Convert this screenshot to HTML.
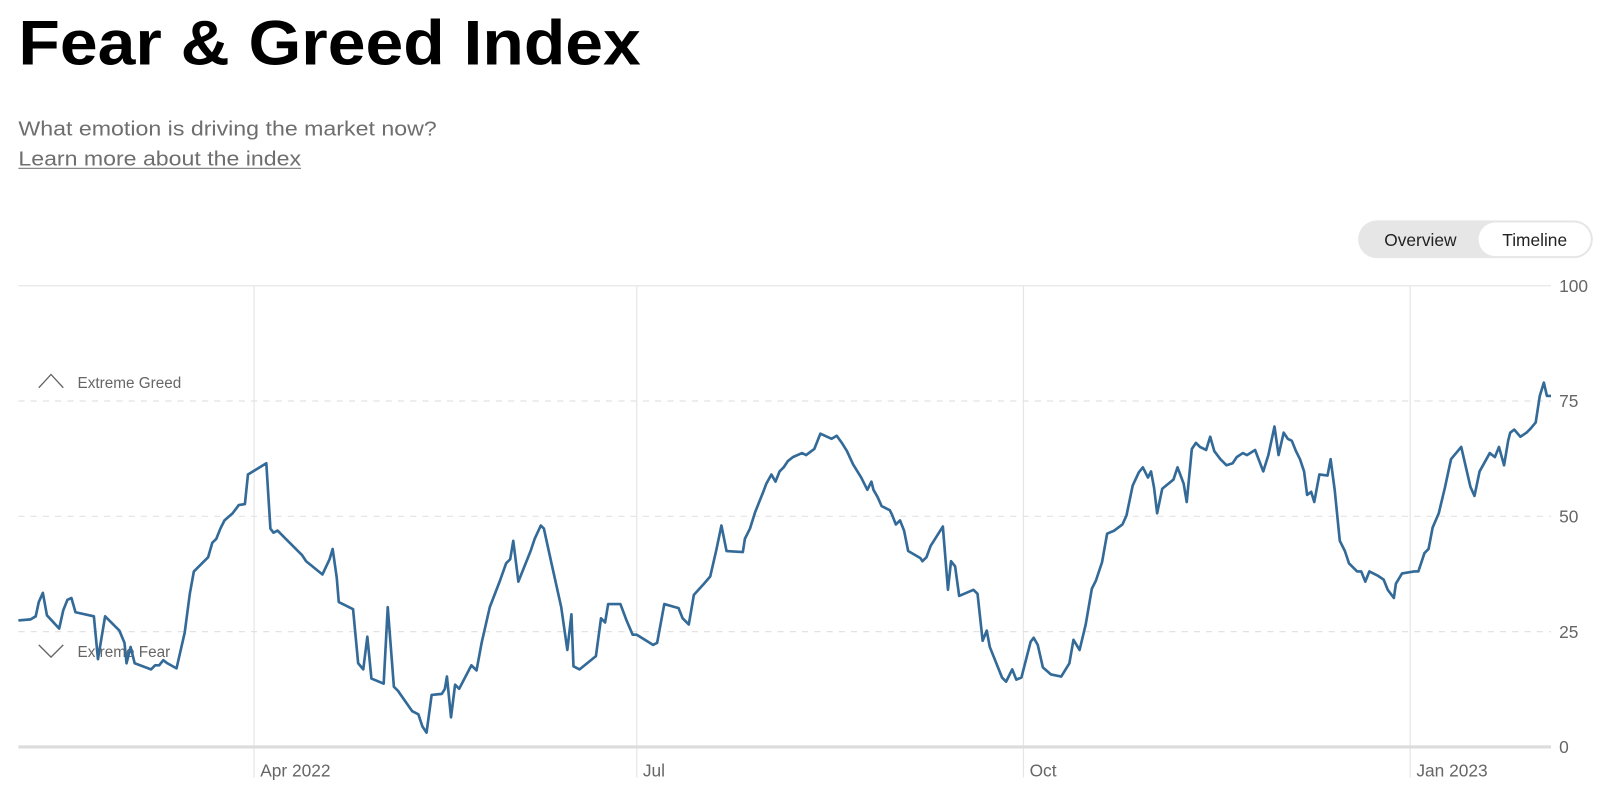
<!DOCTYPE html>
<html><head><meta charset="utf-8"><style>
html,body{margin:0;padding:0;background:#fff;width:1600px;height:801px;overflow:hidden}
#w{transform:scale(1.0204);transform-origin:0 0;width:1568px;height:785px}
svg text{font-family:"Liberation Sans",Arial,sans-serif}
</style></head><body><div id="w">
<svg width="1568" height="785" viewBox="0 0 1568 785" xmlns="http://www.w3.org/2000/svg">
<text x="18" y="63" font-size="62" font-weight="bold" fill="#000" textLength="610" lengthAdjust="spacingAndGlyphs">Fear &amp; Greed Index</text>
<text x="18" y="133" font-size="20" fill="#6e6e6e" textLength="410" lengthAdjust="spacingAndGlyphs">What emotion is driving the market now?</text>
<text x="18" y="162" font-size="20" fill="#6e6e6e" textLength="277" lengthAdjust="spacingAndGlyphs">Learn more about the index</text>
<line x1="18" y1="165" x2="295" y2="165" stroke="#888" stroke-width="1.3"/>
<rect x="1331" y="216" width="230" height="37" rx="18.5" fill="#e6e6e6"/>
<rect x="1449" y="218" width="110" height="33" rx="16.5" fill="#fff"/>
<text x="1392" y="241" font-size="17" fill="#222" text-anchor="middle">Overview</text>
<text x="1504" y="241" font-size="17" fill="#222" text-anchor="middle">Timeline</text>
<g stroke="#e6e6e6" stroke-width="1.2">
<line x1="18" y1="280" x2="1520" y2="280"/>
<line x1="249" y1="280" x2="249" y2="762"/>
<line x1="624" y1="280" x2="624" y2="762"/>
<line x1="1003" y1="280" x2="1003" y2="762"/>
<line x1="1382" y1="280" x2="1382" y2="762"/>
</g>
<g stroke="#e2e2e2" stroke-width="1.2" stroke-dasharray="6,6">
<line x1="18" y1="393" x2="1520" y2="393"/>
<line x1="18" y1="506" x2="1520" y2="506"/>
<line x1="18" y1="619" x2="1520" y2="619"/>
</g>
<line x1="18" y1="732" x2="1520" y2="732" stroke="#dcdcdc" stroke-width="3"/>
<g font-size="17" fill="#666">
<text x="1528" y="286">100</text><text x="1528" y="399">75</text><text x="1528" y="512">50</text><text x="1528" y="625">25</text><text x="1528" y="738">0</text>
<text x="255" y="761">Apr 2022</text><text x="630" y="761">Jul</text><text x="1009" y="761">Oct</text><text x="1388" y="761">Jan 2023</text>
</g>
<polyline points="38,380 50,367 62,380" fill="none" stroke="#666" stroke-width="1.3"/>
<text x="76" y="380" font-size="15" fill="#666">Extreme Greed</text>
<polyline points="38,632 50,644 62,632" fill="none" stroke="#666" stroke-width="1.3"/>
<text x="76" y="644" font-size="15" fill="#666">Extreme Fear</text>
<polyline fill="none" stroke="#336a98" stroke-width="2.6" stroke-linejoin="round" points="18,608 30,607 35,604 38,590 42,581 46,603 58,616 62,598 66,588 70,586 74,600 92,604 96,646 103,604 117,618 122,630 124,650 128,634 132,650 148,656 152,652 156,652 160,647 164,650 173,655 181,620 186,582 190,560 198,552 204,546 208,532 212,528 216,518 220,510 228,503 234,495 240,494 243,465 261,454 265,518 268,522 272,520 280,528 288,536 292,540 296,544 300,550 316,563 323,548 326,538 330,566 332,590 346,597 351,650 356,656 360,624 364,665 376,670 380,595 386,673 390,677 404,697 410,700 414,712 418,718 423,681 433,680 436,675 438,663 442,703 446,671 450,675 462,652 467,657 472,630 480,595 490,569 496,552 500,548 503,530 508,570 520,540 524,528 530,515 533,518 540,550 550,595 556,637 560,602 562,653 568,656 584,643 589,606 593,610 596,592 608,592 614,608 620,622 624,622 640,632 644,630 651,592 665,596 669,606 675,612 680,583 690,572 696,565 702,539 707,515 712,540 728,541 730,528 735,518 740,502 748,482 751,474 756,465 760,472 764,462 768,458 772,452 777,448 786,444 790,446 798,440 804,425 815,430 820,427 825,434 830,442 836,455 844,468 850,480 854,472 856,480 860,487 864,496 872,500 874,504 878,514 882,510 886,520 890,540 902,547 904,550 908,546 912,535 924,516 929,578 932,550 936,555 940,584 954,578 958,582 963,628 967,618 970,634 982,664 986,668 992,656 996,666 1001,664 1010,629 1013,625 1017,632 1022,654 1030,661 1040,663 1048,650 1052,627 1058,637 1064,612 1070,577 1074,569 1080,551 1085,523 1092,520 1100,514 1104,505 1110,476 1116,463 1120,458 1125,468 1128,462 1131,478 1134,503 1139,479 1150,470 1154,458 1160,474 1163,492 1168,440 1172,434 1176,438 1182,441 1186,428 1190,442 1196,450 1202,456 1208,454 1212,448 1218,444 1222,446 1230,441 1238,462 1243,446 1249,418 1253,446 1258,424 1262,430 1266,432 1270,442 1274,450 1278,462 1281,485 1285,482 1288,492 1293,465 1301,466 1304,450 1308,480 1313,530 1318,540 1322,552 1330,560 1334,560 1338,570 1342,560 1350,564 1356,568 1360,578 1366,586 1368,572 1374,562 1386,560 1390,560 1396,542 1400,538 1404,517 1410,503 1416,478 1422,450 1432,438 1441,477 1445,486 1450,462 1460,444 1465,448 1469,438 1474,456 1478,432 1480,424 1484,421 1490,428 1496,424 1500,420 1505,414 1509,388 1513,375 1516,388 1520,388"/>
</svg></div></body></html>
